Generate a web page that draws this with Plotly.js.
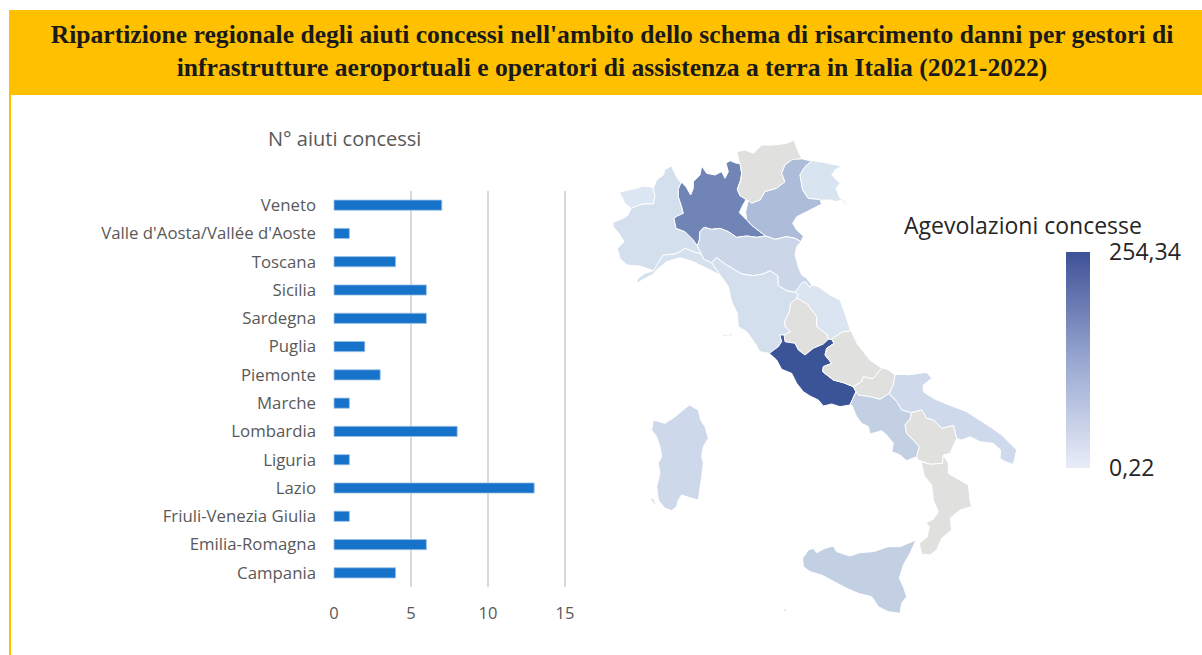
<!DOCTYPE html>
<html><head><meta charset="utf-8">
<script src="https://cdn.plot.ly/plotly-3.0.1.min.js"></script>
<style>html,body{margin:0;padding:0;background:#fff}#c{width:1202px;height:655px}</style>
</head><body><div id="c"></div>
<script>
const barCategories=["Campania","Emilia-Romagna","Friuli-Venezia Giulia","Lazio","Liguria","Lombardia","Marche","Piemonte","Puglia","Sardegna","Sicilia","Toscana","Valle d'Aosta/Vallée d'Aoste","Veneto"];
const barValues=[4,6,1,13,1,8,1,3,2,6,6,4,1,7];
const scaleMin=0.22, scaleMax=254.34;
const scaleTicks=["0,22","254,34"];
const scaleLow=[228,238,247], scaleHigh=[59,84,151];
const noData="#E0E0DF";

// Estimated region amounts (null = no data, shown grey)
const amounts={Piemonte:25,"Valle d'Aosta":12,Liguria:21,Lombardia:175,Trentino:null,Veneto:83,Friuli:17,Emilia:38,Toscana:25,Marche:15,Umbria:null,Lazio:254.34,Abruzzo:null,Molise:null,Campania:50,Puglia:33,Basilicata:null,Calabria:null,Sicilia:50,Sardegna:35};

// Shared region borders, in map units
const vdaPie=[[95,235],[115,226],[130,222],[160,222],[165,200],[160,175]];
const pieLom=[[243,158],[235,178],[235,200],[245,230],[250,250],[232,258],[222,265],[228,295],[255,305],[280,330],[292,348]];
const pieEmi=[[292,348],[303,372]];
const pieLig=[[303,372],[280,365],[255,355],[240,365],[225,372],[190,375],[180,390],[172,405],[160,422]];
const lomEmi=[[292,348],[298,330],[300,305],[312,292],[335,298],[360,295],[385,305],[410,322],[440,318],[470,322],[497,318]];
const lomVen=[[497,318],[480,305],[460,290],[440,270]];
const lomTre=[[440,205],[420,197],[412,178],[422,150],[425,130],[420,100]];
const treVen=[[445,212],[455,220],[480,210],[495,185],[530,175],[555,155],[545,130],[555,105],[575,90]];
const venFri=[[635,93],[615,110],[600,135],[605,160],[608,180],[625,205],[660,208],[665,222]];
const venEmi=[[497,318],[525,328],[560,320],[585,325],[603,335]];
const emiLig=[[303,372],[312,388],[335,398]];
const emiTos=[[335,398],[350,383],[375,402],[400,417],[425,432],[460,437],[490,432],[510,422],[533,437],[535,467],[560,482],[585,487]];
const emiMar=[[585,487],[595,475],[605,460],[615,455],[630,472],[635,465]];
const marTos=[[585,487],[595,492],[590,505]];
const ligTos=[[335,398],[350,420],[362,437]];
const marUmb=[[590,505],[600,510],[622,522],[650,560],[650,590],[680,612],[685,628]];
const umbTos=[[590,505],[572,520],[568,545],[555,572],[555,590],[572,605],[552,615]];
const umbLaz=[[552,615],[555,635],[585,640],[595,660],[615,675],[640,655],[670,642],[685,628]];
const marLaz=[[685,628],[695,628]];
const marAbr=[[752,603],[730,605],[705,620],[695,628]];
const tosLaz=[[552,615],[540,615],[545,635],[535,650],[508,670]];
const abrLaz=[[695,628],[702,640],[680,655],[675,675],[695,700],[670,710],[668,725],[700,750],[730,758],[760,770]];
const abrMol=[[845,715],[820,745],[810,745],[790,740],[785,755],[760,770]];
const molLaz=[[760,770],[768,785]];
const lazCam=[[768,785],[760,805],[750,825]];
const molCam=[[768,785],[775,795],[810,800],[840,808],[868,790]];
const molPug=[[885,735],[880,765],[868,790]];
const camPug=[[868,790],[880,805],[893,818],[905,840],[935,848]];
const camBas=[[935,848],[930,868],[915,885],[920,910],[940,930],[958,950],[950,980]];
const pugBas=[[935,848],[965,840],[980,865],[1000,870],[1025,895],[1060,887],[1070,925]];
const basCal=[[965,995],[990,1003],[1028,1000],[1030,975]];

const rev=a=>[...a].reverse();
const outlines={
"Valle d'Aosta":[...vdaPie,[150,170],[130,168],[110,175],[90,180],[75,182],[58,186],[65,200],[75,220]],
Piemonte:[...vdaPie,[170,150],[190,135],[195,118],[215,108],[222,125],[232,145],...pieLom,...pieEmi,...pieLig,[120,408],[80,405],[60,385],[52,355],[72,335],[60,315],[40,290],[38,278],[70,265],[85,255]],
Lombardia:[...rev(pieLom),[248,160],[258,170],[272,195],[280,175],[280,155],[300,135],[305,108],[320,130],[345,135],[365,125],[375,145],[385,125],[378,100],[390,92],[410,100],...rev(lomTre),[425,232],[418,248],...rev(lomVen),...rev(lomEmi)],
Trentino:[...rev(lomTre).slice(0,-1),[445,212],...treVen.slice(1),[605,85],[595,65],[582,30],[560,40],[520,45],[485,45],[460,70],[435,60],[412,65]],
Veneto:[...rev(treVen),[437,245],[440,270],...lomVen.slice().reverse().slice(1),...venEmi.slice(1),[610,318],[590,300],[578,280],[590,260],[630,240],...rev(venFri),[610,88]],
Friuli:[...venFri,[665,210],[690,210],[710,215],[725,210],[745,230],[735,212],[720,205],[708,175],[720,160],[695,135],[705,120],[725,108],[680,100]],
Liguria:[[115,445],[135,430],...rev(pieLig),...emiLig.slice(1),...ligTos.slice(1),[340,425],[320,415],[280,395],[240,383],[200,395],[175,415],[155,435],[130,448],[110,460]],
Emilia:[...lomEmi,...venEmi.slice(1),[590,350],[585,375],[595,410],[605,435],[620,445],...rev(emiMar),...rev(emiTos),...rev(emiLig),...rev(pieEmi)],
Toscana:[...emiTos,...marTos.slice(1),...umbTos.slice(1),...tosLaz.slice(1),[480,665],[465,640],[440,605],[415,590],[412,550],[395,515],[385,470],...rev(ligTos),[null,null],[368,614],[385,616],[398,608],[395,617],[375,620]],
Marche:[...emiMar,[655,470],[690,495],[720,510],[735,550],...marAbr,[685,628],...rev(marUmb),...rev(marTos)],
Umbria:[...umbTos,...umbLaz.slice(1),...rev(marUmb).slice(1)],
Lazio:[...umbLaz,...marLaz.slice(1),...abrLaz.slice(1),...molLaz.slice(1),...lazCam.slice(1),[720,830],[695,822],[670,828],[655,810],[630,798],[610,785],[590,760],[575,730],[545,718],[530,690],...rev(tosLaz)],
Abruzzo:[...marAbr,...abrLaz.slice(1),...rev(abrMol),[810,690],[770,640]],
Molise:[...abrMol,...molLaz.slice(1),...molCam.slice(1),...rev(molPug),[865,720]],
Campania:[...rev(lazCam),...molCam.slice(1),...camPug.slice(1),...camBas.slice(1),[920,992],[900,975],[875,965],[880,940],[860,915],[845,902],[810,912],[805,890],[785,880],[770,860],[755,825]],
Puglia:[...molPug,...camPug.slice(1),...pugBas.slice(1),[1085,930],[1110,920],[1140,935],[1180,940],[1202,960],[1200,985],[1215,995],[1240,1003],[1250,960],[1205,915],[1170,890],[1130,865],[1100,845],[1040,822],[1000,805],[970,785],[970,765],[995,745],[980,727],[920,735]],
Basilicata:[...pugBas,[1050,970],[1030,975],...rev(basCal).slice(1),[955,990],[950,980],...rev(camBas).slice(1)],
Calabria:[...basCal,[1045,1000],[1045,1030],[1070,1045],[1105,1065],[1110,1110],[1115,1130],[1080,1140],[1050,1165],[1055,1200],[1025,1225],[1010,1260],[990,1275],[965,1272],[958,1240],[982,1220],[988,1190],[978,1178],[1000,1168],[1015,1145],[1000,1110],[995,1065],[975,1040]],
Sardegna:[[268,825],[295,840],[302,870],[315,890],[325,925],[310,950],[305,980],[310,1000],[305,1040],[295,1110],[275,1105],[245,1095],[235,1110],[230,1130],[215,1142],[195,1135],[175,1110],[170,1070],[180,1030],[175,1000],[185,980],[180,950],[170,920],[155,900],[160,870],[195,880],[225,860],[245,845],[268,825],[null,null],[152,1105],[160,1105],[170,1130],[164,1122]],
Sicilia:[[608,1285],[625,1260],[640,1255],[650,1268],[675,1255],[700,1248],[710,1265],[750,1278],[780,1268],[820,1265],[865,1250],[900,1250],[948,1230],[930,1270],[910,1305],[898,1345],[910,1370],[920,1400],[905,1420],[900,1450],[865,1445],[835,1430],[815,1400],[775,1390],[740,1375],[710,1360],[665,1335],[630,1325],[610,1310],[608,1285],[null,null],[550,1435],[560,1440],[556,1445]]
};

function shadeOf(v){
  if(v===null) return noData;
  const t=(v-scaleMin)/(scaleMax-scaleMin);
  const c=scaleLow.map((l,i)=>Math.round(l+(scaleHigh[i]-l)*t));
  return `rgb(${c[0]},${c[1]},${c[2]})`;
}
function regionTrace(name,pts){
  return {type:'scatter',mode:'lines',name:name,xaxis:'x2',yaxis:'y2',fill:'toself',
    fillcolor:shadeOf(amounts[name]),line:{color:'#fff',width:1},showlegend:false,hoverinfo:'name',
    x:pts.map(p=>p[0]),y:pts.map(p=>p[1])};
}
const W=1202,H=655;
const traces=[{type:'bar',orientation:'h',x:barValues,y:barCategories,width:0.36,
  marker:{color:'#1772CA',line:{color:'#9DC3E6',width:0.8}},showlegend:false,xaxis:'x',yaxis:'y'}];
Object.keys(outlines).forEach(k=>traces.push(regionTrace(k,outlines[k])));
traces.push({type:'scatter',mode:'markers',x:[null],y:[null],xaxis:'x2',yaxis:'y2',showlegend:false,hoverinfo:'skip',
  marker:{color:[scaleMin],cmin:scaleMin,cmax:scaleMax,size:1,showscale:true,
    colorscale:[[0,'rgb(233,237,248)'],[0.5,'rgb(152,167,208)'],[1,'rgb(63,81,151)']],
    colorbar:{thickness:24,thicknessmode:'pixels',len:216,lenmode:'pixels',x:1066/W,xanchor:'left',xref:'paper',
      y:1-360/H,yanchor:'middle',yref:'paper',outlinewidth:0,borderwidth:0,xpad:0,ypad:0,
      tickmode:'array',tickvals:[scaleMin,scaleMax],ticktext:scaleTicks,ticks:'outside',ticklen:15,tickcolor:'rgba(0,0,0,0)',
      tickfont:{family:'Open Sans, sans-serif',size:23,color:'#262626'}}}});
const layout={width:W,height:H,margin:{l:0,r:0,t:0,b:0},paper_bgcolor:'#fff',plot_bgcolor:'rgba(0,0,0,0)',bargap:0.6,
  font:{family:'Open Sans, sans-serif',color:'#595959'},
  xaxis:{domain:[333/W,566/W],range:[-0.065,15.065],tickvals:[0,5,10,15],showgrid:true,gridcolor:'#D9D9D9',gridwidth:2,zeroline:false,showline:false,ticks:'',ticklabelstandoff:14,tickfont:{size:16.5,color:'#595959'},anchor:'y',fixedrange:true},
  yaxis:{domain:[1-587/H,1-191/H],type:'category',categoryorder:'array',categoryarray:barCategories,showgrid:false,zeroline:false,showline:false,ticks:'',ticklabelstandoff:16,tickfont:{size:16.8,color:'#595959'},anchor:'x',automargin:false,fixedrange:true},
  xaxis2:{domain:[600/W,1050/W],range:[0,1350],visible:false,anchor:'y2',fixedrange:true},
  yaxis2:{domain:[1-630/H,1-130/H],range:[1500,0],visible:false,anchor:'x2',fixedrange:true},
  shapes:[
    {type:'rect',xref:'paper',yref:'paper',x0:9/W,x1:1,y0:1-95/H,y1:1-10/H,fillcolor:'#FFC000',line:{width:0},layer:'below'},
    {type:'rect',xref:'paper',yref:'paper',x0:9/W,x1:11/W,y0:0,y1:1-95/H,fillcolor:'#FFC000',line:{width:0},layer:'below'}
  ],
  title:{text:"<b>Ripartizione regionale degli aiuti concessi nell'ambito dello schema di risarcimento danni per gestori di<br>infrastrutture aeroportuali e operatori di assistenza a terra in Italia (2021-2022)</b>",
    font:{family:'Liberation Serif, serif',size:25.6,color:'#1a1a1a'},x:612/W,xanchor:'center',xref:'paper',y:1-43/H,yanchor:'middle',yref:'paper'},
  annotations:[
    {text:'N° aiuti concessi',xref:'paper',yref:'paper',x:344/W,y:1-138/H,xanchor:'center',yanchor:'middle',showarrow:false,font:{family:'Open Sans, sans-serif',size:20,color:'#595959'}},
    {text:'Agevolazioni concesse',xref:'paper',yref:'paper',x:1023/W,y:1-225/H,xanchor:'center',yanchor:'middle',showarrow:false,font:{family:'Open Sans, sans-serif',size:23,color:'#262626'}}
  ]};
Plotly.newPlot('c',traces,layout,{displayModeBar:false,staticPlot:true});
</script></body></html>
